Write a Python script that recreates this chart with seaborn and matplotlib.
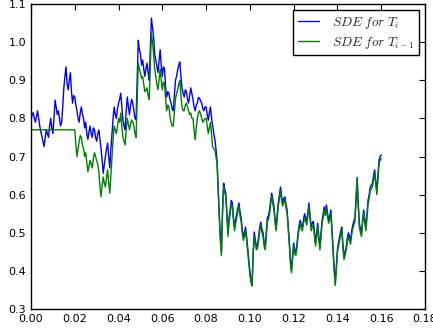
import numpy as np
import matplotlib
matplotlib.use("Agg")
import matplotlib.pyplot as plt
import seaborn as sns

# time grid (step 0.0005) and the two paths
t = [round(i * 0.0005, 4) for i in range(321)]

sde_ti = [
    0.795, 0.81, 0.815, 0.80, 0.79, 0.805, 0.82, 0.80, 0.78, 0.765, 0.752, 0.74, 0.726, 0.75, 0.77, 0.76, 0.75, 0.78, 0.80, 0.775,
    0.76, 0.80, 0.848, 0.83, 0.81, 0.82, 0.80, 0.78, 0.79, 0.83, 0.88, 0.91, 0.935, 0.89, 0.875, 0.90, 0.92, 0.87, 0.84, 0.86,
    0.856, 0.835, 0.82, 0.80, 0.79, 0.815, 0.83, 0.81, 0.80, 0.775, 0.79, 0.76, 0.745, 0.765, 0.78, 0.76, 0.75, 0.775, 0.77, 0.75,
    0.74, 0.76, 0.77, 0.745, 0.72, 0.69, 0.656, 0.68, 0.70, 0.72, 0.735, 0.70, 0.67, 0.72, 0.76, 0.80, 0.83, 0.81, 0.80, 0.825,
    0.84, 0.85, 0.866, 0.83, 0.796, 0.78, 0.77, 0.82, 0.856, 0.83, 0.81, 0.835, 0.85, 0.84, 0.82, 0.80, 0.796, 0.90, 1.005, 0.98,
    0.97, 0.94, 0.953, 0.93, 0.91, 0.93, 0.945, 0.92, 0.90, 0.98, 1.063, 1.04, 1.015, 0.97, 0.953, 0.935, 0.92, 0.95, 0.98, 0.94,
    0.91, 0.935, 0.93, 0.88, 0.856, 0.87, 0.866, 0.85, 0.84, 0.825, 0.82, 0.86, 0.90, 0.91, 0.927, 0.94, 0.948, 0.91, 0.88, 0.865,
    0.856, 0.875, 0.87, 0.85, 0.84, 0.86, 0.88, 0.865, 0.85, 0.83, 0.82, 0.835, 0.84, 0.855, 0.853, 0.845, 0.84, 0.825, 0.82, 0.83,
    0.83, 0.81, 0.795, 0.815, 0.83, 0.80, 0.78, 0.76, 0.744, 0.72, 0.69, 0.62, 0.55, 0.49, 0.447, 0.56, 0.63, 0.615, 0.604, 0.55,
    0.50, 0.54, 0.56, 0.585, 0.578, 0.54, 0.515, 0.535, 0.55, 0.565, 0.578, 0.555, 0.54, 0.51, 0.489, 0.50, 0.515, 0.49, 0.46, 0.43,
    0.40, 0.375, 0.363, 0.45, 0.502, 0.48, 0.463, 0.47, 0.49, 0.515, 0.528, 0.51, 0.50, 0.475, 0.463, 0.50, 0.54, 0.545, 0.56, 0.585,
    0.604, 0.585, 0.57, 0.535, 0.515, 0.55, 0.58, 0.60, 0.62, 0.595, 0.578, 0.59, 0.594, 0.575, 0.56, 0.52, 0.48, 0.43, 0.40, 0.44,
    0.473, 0.455, 0.447, 0.47, 0.50, 0.52, 0.533, 0.52, 0.515, 0.535, 0.55, 0.54, 0.53, 0.555, 0.578, 0.545, 0.515, 0.525, 0.53, 0.50,
    0.473, 0.50, 0.525, 0.49, 0.463, 0.50, 0.533, 0.55, 0.568, 0.555, 0.573, 0.55, 0.533, 0.545, 0.56, 0.51, 0.463, 0.41, 0.368, 0.41,
    0.455, 0.475, 0.49, 0.505, 0.515, 0.47, 0.437, 0.45, 0.463, 0.485, 0.50, 0.49, 0.48, 0.505, 0.52, 0.53, 0.54, 0.59, 0.645, 0.58,
    0.525, 0.51, 0.50, 0.535, 0.56, 0.535, 0.515, 0.55, 0.586, 0.60, 0.62, 0.625, 0.63, 0.65, 0.665, 0.635, 0.612, 0.65, 0.69, 0.70,
    0.704,
]

sde_ti_1 = [
    0.77, 0.77, 0.77, 0.77, 0.77, 0.77, 0.77, 0.77, 0.77, 0.77, 0.77, 0.77, 0.77, 0.77, 0.77, 0.77, 0.77, 0.77, 0.77, 0.77,
    0.77, 0.77, 0.77, 0.77, 0.77, 0.77, 0.77, 0.77, 0.77, 0.77, 0.77, 0.77, 0.77, 0.77, 0.77, 0.77, 0.77, 0.77, 0.77, 0.77,
    0.77, 0.73, 0.70, 0.72, 0.74, 0.755, 0.75, 0.73, 0.72, 0.70, 0.71, 0.685, 0.66, 0.675, 0.69, 0.68, 0.67, 0.695, 0.71, 0.70,
    0.69, 0.68, 0.66, 0.62, 0.595, 0.625, 0.646, 0.63, 0.62, 0.645, 0.665, 0.63, 0.604, 0.65, 0.70, 0.745, 0.78, 0.77, 0.76, 0.78,
    0.80, 0.79, 0.814, 0.78, 0.75, 0.74, 0.73, 0.77, 0.80, 0.785, 0.77, 0.785, 0.796, 0.79, 0.78, 0.76, 0.75, 0.85, 0.945, 0.93,
    0.92, 0.905, 0.91, 0.89, 0.87, 0.875, 0.88, 0.86, 0.85, 0.94, 1.024, 1.0, 0.97, 0.93, 0.91, 0.89, 0.875, 0.90, 0.93, 0.90,
    0.875, 0.895, 0.89, 0.85, 0.82, 0.835, 0.83, 0.805, 0.79, 0.78, 0.78, 0.815, 0.85, 0.865, 0.875, 0.89, 0.90, 0.86, 0.83, 0.82,
    0.82, 0.835, 0.84, 0.83, 0.82, 0.81, 0.814, 0.80, 0.80, 0.77, 0.744, 0.775, 0.80, 0.815, 0.82, 0.81, 0.80, 0.79, 0.795, 0.80,
    0.80, 0.78, 0.76, 0.775, 0.79, 0.755, 0.725, 0.72, 0.717, 0.70, 0.68, 0.61, 0.54, 0.48, 0.44, 0.55, 0.62, 0.605, 0.595, 0.54,
    0.49, 0.53, 0.55, 0.575, 0.57, 0.53, 0.505, 0.525, 0.54, 0.555, 0.57, 0.545, 0.53, 0.50, 0.48, 0.49, 0.505, 0.48, 0.45, 0.42,
    0.39, 0.37, 0.36, 0.44, 0.49, 0.47, 0.455, 0.46, 0.48, 0.505, 0.52, 0.50, 0.49, 0.465, 0.455, 0.49, 0.53, 0.535, 0.55, 0.575,
    0.595, 0.575, 0.56, 0.525, 0.505, 0.54, 0.57, 0.59, 0.61, 0.585, 0.57, 0.58, 0.585, 0.565, 0.55, 0.51, 0.47, 0.42, 0.395, 0.43,
    0.465, 0.445, 0.44, 0.46, 0.49, 0.51, 0.525, 0.51, 0.505, 0.525, 0.54, 0.53, 0.52, 0.545, 0.57, 0.535, 0.505, 0.515, 0.52, 0.49,
    0.465, 0.49, 0.515, 0.48, 0.455, 0.49, 0.525, 0.54, 0.56, 0.545, 0.565, 0.54, 0.525, 0.535, 0.55, 0.50, 0.455, 0.40, 0.362, 0.40,
    0.45, 0.465, 0.48, 0.495, 0.51, 0.46, 0.43, 0.44, 0.455, 0.475, 0.49, 0.48, 0.47, 0.495, 0.51, 0.52, 0.53, 0.58, 0.64, 0.57,
    0.515, 0.50, 0.49, 0.525, 0.55, 0.525, 0.505, 0.54, 0.575, 0.59, 0.61, 0.615, 0.62, 0.64, 0.655, 0.625, 0.60, 0.64, 0.68, 0.69,
    0.695,
]

labels = [r'$SDE\ for\ T_i$', r'$SDE\ for\ T_{i-1}$']

sns.set_style("white")
plt.rcParams.update({
    'font.family': ['DejaVu Sans'],
    'xtick.direction': 'in', 'ytick.direction': 'in',
    'xtick.top': True, 'ytick.right': True,
    'xtick.major.size': 4, 'ytick.major.size': 4,
    'axes.edgecolor': 'black', 'axes.linewidth': 1.0,
    'mathtext.fontset': 'cm',
})

fig = plt.figure(figsize=(4.33, 3.33), dpi=100)
ax = fig.add_axes([0.0716, 0.072, 0.9099, 0.916])

sns.lineplot(x=t, y=sde_ti, ax=ax, color='b', linewidth=1.0,
             estimator=None, sort=False, label=labels[0])
sns.lineplot(x=t, y=sde_ti_1, ax=ax, color='g', linewidth=1.0,
             estimator=None, sort=False, label=labels[1])

ax.set_xlim(0, 0.18)
ax.set_ylim(0.3, 1.1)
ax.set_xticks(np.arange(0, 0.181, 0.02))
ax.set_yticks(np.arange(0.3, 1.101, 0.1))
ax.xaxis.set_major_formatter(matplotlib.ticker.FormatStrFormatter('%.2f'))
ax.yaxis.set_major_formatter(matplotlib.ticker.FormatStrFormatter('%.1f'))
ax.tick_params(labelsize=8, colors='black', width=0.8)
for s in ax.spines.values():
    s.set_color('black')

leg = ax.legend(loc='upper right', fontsize=9.5, fancybox=False,
                framealpha=1, edgecolor='black', borderaxespad=0.45,
                handlelength=1.6, labelspacing=0.3, borderpad=0.35,
                handletextpad=1.0)
leg.get_frame().set_linewidth(1.0)

fig.savefig('out.png', dpi=100)
